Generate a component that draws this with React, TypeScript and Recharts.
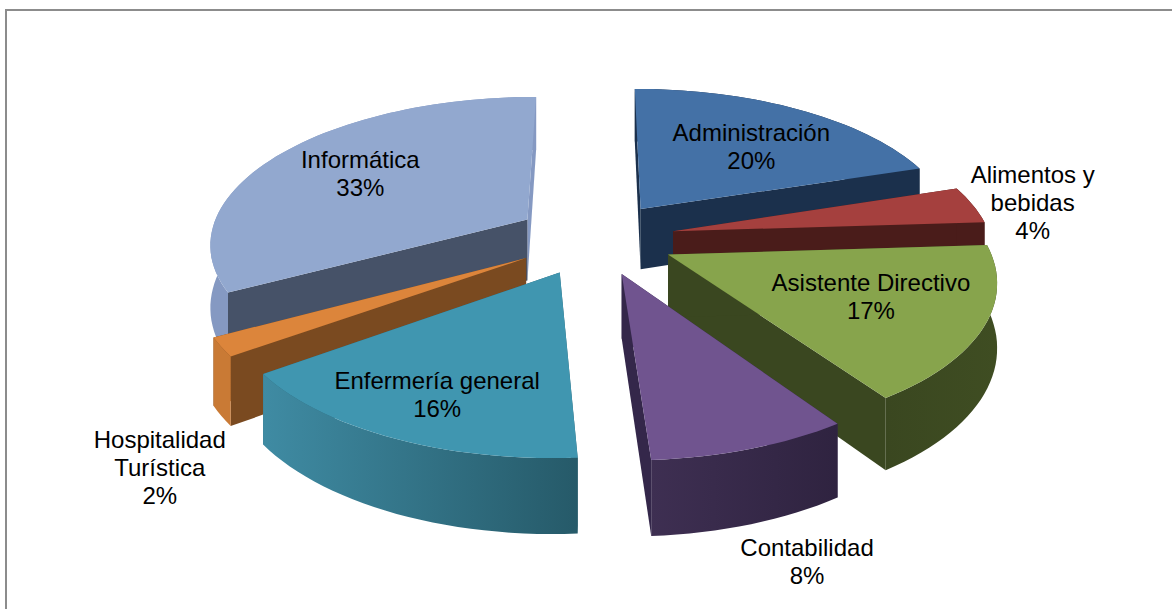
import React from 'react';
import { PieChart, Pie, Cell } from 'recharts';

const rightNames = ['Administración', 'Alimentos y bebidas', 'Asistente Directivo'];
const rightValues = [20, 4, 16.55];
const rightColors = ['#4471a6', '#a5403e', '#87a44c'];
const rightCut = ['#1b304c', '#4a1c1a', '#3a4720'];
const rightRimFrom = ['#1b304c', '#4a1c1a', '#3a4720'];
const rightRimTo = ['#1b304c', '#4a1c1a', '#3f4d22'];

const leftNames = ['Informática', 'Hospitalidad Turística', 'Enfermería general', 'Contabilidad'];
const leftValues = [33, 2, 16, 8.45];
const leftColors = ['#92a8cf', '#dc853b', '#4096b0', '#70548f'];
const leftCut = ['#465268', '#7a4a20', '#2a6070', '#34274a'];
const leftRimFrom = ['#8599c2', '#c97a35', '#3f8ba3', '#3e2f52'];
const leftRimTo = ['#8599c2', '#c97a35', '#265a69', '#2f2340'];

// how each name wraps in its label
const labelLines: Record<string, string[]> = {
  'Administración': ['Administración'],
  'Alimentos y bebidas': ['Alimentos y', 'bebidas'],
  'Asistente Directivo': ['Asistente Directivo'],
  'Informática': ['Informática'],
  'Hospitalidad Turística': ['Hospitalidad', 'Turística'],
  'Enfermería general': ['Enfermería general'],
  'Contabilidad': ['Contabilidad'],
};
// radial position of each label, as a share of the radius
const labelRadius: Record<string, number> = {
  'Administración': 0.62,
  'Alimentos y bebidas': 1.2,
  'Asistente Directivo': 0.62,
  'Informática': 0.62,
  'Hospitalidad Turística': 1.2,
  'Enfermería general': 0.62,
  'Contabilidad': 1.3,
};
// hand placement on top of the radial position
const labelNudge: Record<string, [number, number]> = {
  'Administración': [9, 2],
  'Alimentos y bebidas': [2, 3],
  'Asistente Directivo': [12, -1],
  'Informática': [-11, -3],
  'Hospitalidad Turística': [6, 101],
  'Enfermería general': [-24, 26],
  'Contabilidad': [8, 48],
};

const WIDTH = 1172;
const HEIGHT = 609;
const CX = 595;
const CY = 238;
const RADIUS = 318;
const EXPLODE = 80;
const TILT = 0.46;
const PERSP = 0.15;
const DEPTH = 62;

// clockwise degrees from 12 o'clock
const fromTop = (a: number) => 90 - a;

function project(theta: number, r: number, mid: number, z = 0) {
  const t = (theta * Math.PI) / 180;
  const m = (mid * Math.PI) / 180;
  const u = r * Math.sin(t) + EXPLODE * Math.sin(m);
  const v = -r * Math.cos(t) - EXPLODE * Math.cos(m);
  const f = 1 / (1 - (PERSP * v) / RADIUS);
  return { x: CX + u * f, y: CY + (v * TILT + z * DEPTH) * f };
}

function arcPoints(a0: number, a1: number, mid: number, r: number, z: number) {
  const n = Math.max(2, Math.ceil(Math.abs(a1 - a0) / 2));
  const pts = [];
  for (let i = 0; i <= n; i++) pts.push(project(a0 + ((a1 - a0) * i) / n, r, mid, z));
  return pts;
}

const toD = (pts: { x: number; y: number }[]) =>
  pts.map((p, i) => `${i ? 'L' : 'M'}${p.x.toFixed(1)},${p.y.toFixed(1)}`).join(' ') + ' Z';

const slugOf = (name: string) => name.split(' ')[0];

function Slice3D(props: any) {
  const { startAngle, endAngle, outerRadius, fill, cutFill, stripFill, name } = props;
  const a0 = fromTop(Math.max(startAngle, endAngle));
  const a1 = fromTop(Math.min(startAngle, endAngle));
  const mid = (a0 + a1) / 2;
  const r = outerRadius;
  const apexTop = project(a0, 0, mid, 0);
  const apexBottom = project(a0, 0, mid, 1);
  const rimTop = arcPoints(a0, a1, mid, r, 0);
  const rimBottom = arcPoints(a0, a1, mid, r, 1);
  const wall = (p: { x: number; y: number }, q: { x: number; y: number }) =>
    toD([apexTop, p, q, apexBottom]);
  return (
    <g>
      <path d={wall(rimTop[rimTop.length - 1], rimBottom[rimBottom.length - 1])} fill={stripFill || cutFill} />
      <path d={wall(rimTop[0], rimBottom[0])} fill={cutFill} />
      <path d={toD([...rimTop, ...rimBottom.slice().reverse()])} fill={`url(#wall-${slugOf(name)})`} />
      <path d={toD([apexTop, ...rimTop])} fill={fill} />
    </g>
  );
}

function SliceLabel(props: any) {
  const { midAngle, name, outerRadius, value } = props;
  const mid = fromTop(midAngle);
  const p = project(mid, outerRadius * labelRadius[name], mid, 0);
  const [dx, dy] = labelNudge[name];
  const lines = [...labelLines[name], `${Math.round(value)}%`];
  return (
    <text textAnchor="middle" fontFamily="Liberation Sans" fontSize={24} fill="#000">
      {lines.map((l, i) => (
        <tspan key={l} x={p.x + dx} y={p.y + dy + (i - (lines.length - 1) / 2) * 28 + 8}>{l}</tspan>
      ))}
    </text>
  );
}

const rightData = rightNames.map((name, i) => ({ name, value: rightValues[i] }));
const leftData = leftNames.map((name, i) => ({ name, value: leftValues[i] }));
const allNames = [...rightNames, ...leftNames];
const allRimFrom = [...rightRimFrom, ...leftRimFrom];
const allRimTo = [...rightRimTo, ...leftRimTo];

const sum = (a: number[]) => a.reduce((s, v) => s + v, 0);
const total = sum(rightValues) + sum(leftValues);

export default function App() {
  return (
    <div style={{ position: 'absolute', left: 0, top: 0, width: WIDTH, height: HEIGHT, background: '#fff', overflow: 'hidden' }}>
      <div style={{ position: 'absolute', left: 5, top: 9, width: 1200, height: 640, borderTop: '2px solid #8c8c8c', borderLeft: '2px solid #8c8c8c' }} />
      <PieChart width={WIDTH} height={HEIGHT} style={{ position: 'absolute', left: 0, top: 0 }}>
        <defs>
          {allNames.map((n, i) => (
            <linearGradient key={n} id={`wall-${slugOf(n)}`} x1="0" y1="0" x2="1" y2="0">
              <stop offset="0%" stopColor={allRimFrom[i]} />
              <stop offset="100%" stopColor={allRimTo[i]} />
            </linearGradient>
          ))}
        </defs>
        <Pie
          data={rightData}
          dataKey="value"
          nameKey="name"
          cx={CX}
          cy={CY}
          outerRadius={RADIUS}
          startAngle={90}
          endAngle={90 - (360 * sum(rightValues)) / total}
          paddingAngle={0}
          stroke="none"
          isAnimationActive={false}
          shape={(p: any) => <Slice3D {...p} cutFill={rightCut[p.index]} />}
          label={SliceLabel}
          labelLine={false}
        >
          {rightData.map((d, i) => <Cell key={d.name} fill={rightColors[i]} />)}
        </Pie>
        <Pie
          data={leftData}
          dataKey="value"
          nameKey="name"
          cx={CX}
          cy={CY}
          outerRadius={RADIUS}
          startAngle={90}
          endAngle={90 + (360 * sum(leftValues)) / total}
          paddingAngle={0}
          stroke="none"
          isAnimationActive={false}
          shape={(p: any) => (
            <Slice3D {...p} cutFill={leftCut[p.index]} stripFill={p.index === 0 ? leftRimFrom[0] : undefined} />
          )}
          label={SliceLabel}
          labelLine={false}
        >
          {leftData.map((d, i) => <Cell key={d.name} fill={leftColors[i]} />)}
        </Pie>
      </PieChart>
    </div>
  );
}
